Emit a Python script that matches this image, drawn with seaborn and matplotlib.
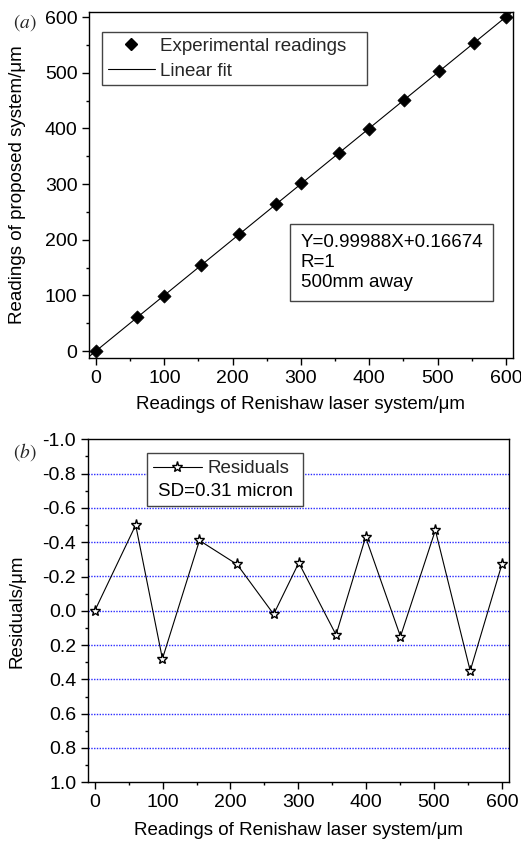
import numpy as np
import pandas as pd
import matplotlib
matplotlib.use("Agg")
import matplotlib.pyplot as plt
import seaborn as sns
from matplotlib.lines import Line2D
from matplotlib.patches import Rectangle
from matplotlib.ticker import MultipleLocator, FormatStrFormatter

# ---------------- data ----------------
renishaw = [0, 60.3, 99.7, 154.3, 209.9, 263.7, 300.7, 355.6, 399.2, 450.6, 502.0, 553.4, 600.0]
proposed = [0.2, 60.6, 99.4, 154.8, 210.3, 263.8, 301.1, 355.6, 399.7, 450.7, 502.5, 553.2, 600.3]
residuals = [0.0, -0.50, 0.28, -0.41, -0.27, 0.02, -0.28, 0.14, -0.43, 0.15, -0.47, 0.35, -0.27]
fit_slope = 0.99988
fit_intercept = 0.16674
fit_text = ["Y=0.99988X+0.16674", "R=1", "500mm away"]
sd_text = "SD=0.31 micron"
xlabel = "Readings of Renishaw laser system/\u03bcm"
ylabel_a = "Readings of proposed system/\u03bcm"
ylabel_b = "Residuals/\u03bcm"

df = pd.DataFrame({"x": renishaw, "y": proposed, "r": residuals})

# ---------------- style ----------------
sns.set_theme(style="ticks")
plt.rcParams["font.family"] = ["Liberation Sans", "DejaVu Sans"]
plt.rcParams["axes.unicode_minus"] = False
plt.rcParams["mathtext.fontset"] = "stix"
FS = 13.5
TFS = 14

W, H = 521, 841
fig = plt.figure(figsize=(W / 100, H / 100), dpi=100)

def px_axes(l, t, r, b):
    return fig.add_axes([l / W, 1 - b / H, (r - l) / W, (b - t) / H])

ax1 = px_axes(89.2, 12, 512.7, 357.7)
ax2 = px_axes(88, 439.3, 509.3, 782.3)

for ax in (ax1, ax2):
    for s in ax.spines.values():
        s.set_color("black")
        s.set_linewidth(1.0)
    ax.tick_params(which="major", direction="out", length=5, width=1, labelsize=TFS,
                   color="black", labelcolor="black", pad=3.5,
                   top=False, right=False)
    ax.tick_params(which="minor", direction="out", length=2.5, width=1, color="black",
                   top=False, right=False)
    ax.set_facecolor("white")

# ---------------- panel (a) ----------------
xs = np.array([-10, 610])
fit_df = pd.DataFrame({"x": xs, "y": fit_slope * xs + fit_intercept})
sns.lineplot(data=fit_df, x="x", y="y", ax=ax1, color="black", lw=0.8, label="Linear fit",
             legend=False)
sns.scatterplot(data=df, x="x", y="y", ax=ax1, marker="D", s=45, color="black",
                edgecolor="black", linewidth=0.5, zorder=3, legend=False)
ax1.set_xlim(-10, 610)
ax1.set_ylim(-12, 609)
ax1.xaxis.set_major_locator(MultipleLocator(100))
ax1.xaxis.set_minor_locator(MultipleLocator(50))
ax1.yaxis.set_major_locator(MultipleLocator(100))
ax1.yaxis.set_minor_locator(MultipleLocator(50))
ax1.set_xlabel(xlabel, fontsize=FS, color="black")
ax1.set_ylabel(ylabel_a, fontsize=FS, color="black")
ax1.yaxis.set_label_coords(-0.150, 0.5)
ax1.xaxis.set_label_coords(0.5, -0.112)

h1 = [Line2D([], [], ls="none", marker="D", ms=6.5, color="black"),
      Line2D([], [], color="black", lw=0.8)]
leg1 = ax1.legend(h1, ["Experimental readings", "Linear fit"], loc="upper left",
                  bbox_to_anchor=(0.030, 0.783, 0.626, 0.159), mode="expand",
                  borderaxespad=0, fontsize=FS, frameon=True, fancybox=False,
                  edgecolor="#444444", framealpha=1, handlelength=2.55,
                  handletextpad=0.25, borderpad=0.3, labelspacing=0.42)
leg1.get_frame().set_linewidth(1.0)

ax1.text(0.499, 0.357, "\n".join(fit_text), transform=ax1.transAxes, fontsize=FS,
         ha="left", va="top", linespacing=1.22, color="black",
         bbox=dict(boxstyle="square,pad=0.55", fc="white", ec="#444444", lw=1.0))

# ---------------- panel (b) ----------------
sns.lineplot(data=df, x="x", y="r", ax=ax2, color="black", lw=0.8, sort=False,
             marker="*", markersize=8, markerfacecolor="white",
             markeredgecolor="black", markeredgewidth=1.0, zorder=3)
ax2.set_xlim(-10, 611)
ax2.set_ylim(1.0, -1.0)
ax2.xaxis.set_major_locator(MultipleLocator(100))
ax2.xaxis.set_minor_locator(MultipleLocator(50))
ax2.yaxis.set_major_locator(MultipleLocator(0.2))
ax2.yaxis.set_minor_locator(MultipleLocator(0.1))
ax2.yaxis.set_major_formatter(FormatStrFormatter("%.1f"))
for g in np.arange(-0.8, 0.81, 0.2):
    ax2.axhline(g, color="#2a2aff", lw=1.0, ls=(0, (1, 1)), zorder=1)
ax2.set_xlabel(xlabel, fontsize=FS, color="black")
ax2.set_ylabel(ylabel_b, fontsize=FS, color="black")
ax2.yaxis.set_label_coords(-0.148, 0.5)
ax2.xaxis.set_label_coords(0.5, -0.115)

# legend box (b)
ax2.add_patch(Rectangle((0.140, 0.806), 0.370, 0.155, transform=ax2.transAxes,
                        fill=True, fc="white", ec="#444444", lw=1.0, zorder=4))
h2 = [Line2D([], [], color="black", lw=0.8, marker="*", ms=8, mfc="white",
             mec="black", mew=1.0)]
leg2 = ax2.legend(h2, ["Residuals"], loc="upper left", bbox_to_anchor=(0.150, 0.945),
                  borderaxespad=0, fontsize=FS, frameon=False, handlelength=2.6,
                  handletextpad=0.3, borderpad=0.1)
leg2.set_zorder(5)
ax2.text(0.165, 0.848, sd_text, transform=ax2.transAxes, fontsize=FS, ha="left",
         va="center", color="black", zorder=6)

# panel labels
fig.text(13 / W, 1 - 23 / H, "$(a)$", fontsize=14, ha="left", va="center")
fig.text(13 / W, 1 - 452 / H, "$(b)$", fontsize=14, ha="left", va="center")

fig.savefig("out.png", dpi=100)
